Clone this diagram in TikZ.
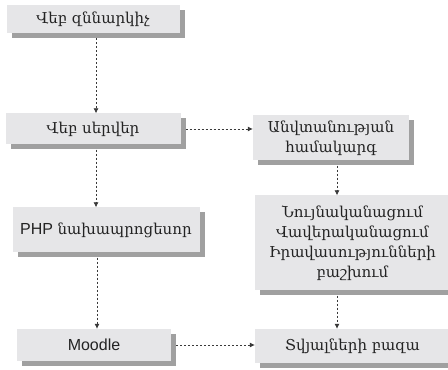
\documentclass[tikz,border=0pt]{standalone}
\usepackage{fontspec}
\setmainfont{DejaVu Serif}
\newfontfamily\latinsans{Liberation Sans}
\usepackage{tikz}
\usetikzlibrary{positioning,shadows,arrows.meta}
\definecolor{boxfill}{RGB}{230,230,232}
\definecolor{boxshadow}{RGB}{160,160,160}
\definecolor{boxtext}{RGB}{35,35,35}

\tikzset{
  blok/.style={rectangle, fill=boxfill, text=boxtext, align=center,
    font=\fontsize{15}{20}\selectfont, inner sep=2pt,
    drop shadow={shadow xshift=5pt, shadow yshift=-5pt, fill=boxshadow, opacity=1}},
  flow/.style={-{Latex[length=5pt,width=5pt]}, draw=boxtext!90, line width=0.7pt,
    dash pattern=on 2.2pt off 1.8pt, shorten <=5pt}
}

\begin{document}
\begin{tikzpicture}[x=1pt,y=1pt,node distance=100pt,on grid]
  \useasboundingbox[fill=white] (0,0) rectangle (448,370);

  \node[blok,minimum width=173pt,minimum height=28pt] (web) at (93,351) {Վեբ զննարկիչ};
  \node[blok,minimum width=175pt,minimum height=31pt] (server) [below=110pt of web] {Վեբ սերվեր};
  \node[blok,minimum width=187pt,minimum height=45pt,font=\latinsans\fontsize{16}{20}\selectfont] (php) [below=101pt of server,xshift=13pt] {PHP \fontspec{DejaVu Serif}\fontsize{15}{20}\selectfont նախապրոցեսոր};
  \node[blok,minimum width=154pt,minimum height=32pt,font=\latinsans\fontsize{16}{20}\selectfont] (moodle) [below=115pt of php,xshift=-12pt] {Moodle};

  \node[blok,minimum width=156pt,minimum height=45pt] (secur) [right=238pt of server,yshift=-9pt] {Անվտանության\\համակարգ};
  \node[blok,minimum width=195pt,minimum height=95pt] (auth) [below=105pt of secur,xshift=21.5pt] {Նույնականացում\\Վավերականացում\\Իրավասությունների\\բաշխում};
  \node[blok,minimum width=195pt,minimum height=34pt] (db) [below=103pt of auth] {Տվյալների բազա};

  % left column
  \draw[flow] ([xshift=3pt]web.south) -- ([xshift=3pt]server.north);
  \draw[flow] ([xshift=3pt]server.south) -- ([xshift=3pt]server.south |- php.north);
  \draw[flow] ([xshift=3pt]moodle.north |- php.south) -- ([xshift=3pt]moodle.north);

  % right column
  \draw[flow] ([xshift=6pt]secur.south) -- ([xshift=6pt]secur.south |- auth.north);
  \draw[flow] ([xshift=6pt]secur.south |- auth.south) -- ([xshift=6pt]secur.south |- db.north);

  % across
  \draw[flow] (server.east) -- (secur.west |- server.east);
  \draw[flow] (moodle.east) -- (db.west |- moodle.east);
\end{tikzpicture}
\end{document}
